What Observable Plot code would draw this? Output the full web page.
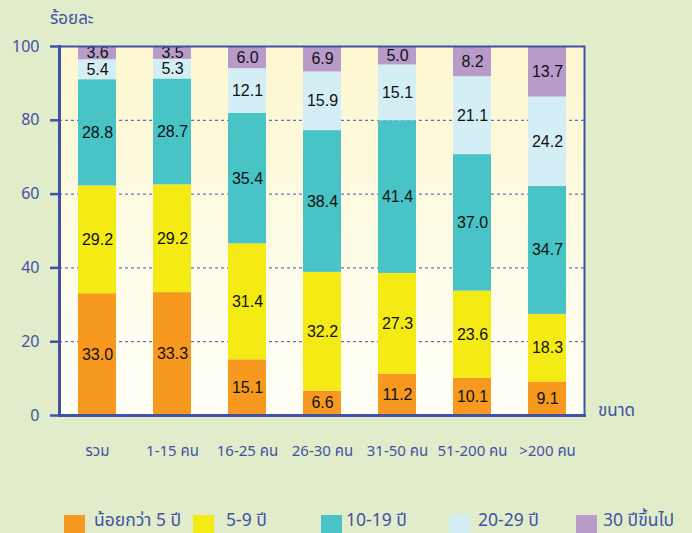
<!DOCTYPE html>
<html>
<head>
<meta charset="utf-8">
<script src="https://cdn.jsdelivr.net/npm/d3@7"></script>
<script src="https://cdn.jsdelivr.net/npm/@observablehq/plot@0.6"></script>
<style>
  html, body { margin: 0; padding: 0; background: #e1ecca; }
  #wrap { position: relative; width: 692px; height: 533px; overflow: hidden; background: #e1ecca;
    font-family: "Noto Sans Thai", "Tahoma", "DejaVu Sans", "Noto Sans", sans-serif; color: #4152a6; }
  .lab { position: absolute; font-size: 17px; color: #4152a6; white-space: nowrap; }
  .sw { position: absolute; width: 21px; height: 18px; }
  .lt { position: absolute; font-size: 17.5px; line-height: 1; color: #4152a6; white-space: nowrap; }
</style>
</head>
<body>
<div id="wrap"></div>
<script>
const categories = ["รวม", "1-15 คน", "16-25 คน", "26-30 คน", "31-50 คน", "51-200 คน", ">200 คน"];
const seriesNames = ["น้อยกว่า 5 ปี", "5-9 ปี", "10-19 ปี", "20-29 ปี", "30 ปีขึ้นไป"];
const lessThan5 = [33.0, 33.3, 15.1, 6.6, 11.2, 10.1, 9.1];
const years5to9 = [29.2, 29.2, 31.4, 32.2, 27.3, 23.6, 18.3];
const years10to19 = [28.8, 28.7, 35.4, 38.4, 41.4, 37.0, 34.7];
const years20to29 = [5.4, 5.3, 12.1, 15.9, 15.1, 21.1, 24.2];
const years30plus = [3.6, 3.5, 6.0, 6.9, 5.0, 8.2, 13.7];
const yTicks = [0, 20, 40, 60, 80, 100];
const colors = ["#f8991f", "#f5eb14", "#48c3c6", "#d4eef5", "#b99bc9"];

const seriesValues = [lessThan5, years5to9, years10to19, years20to29, years30plus];
const data = [];
seriesValues.forEach((vals, si) => {
  vals.forEach((v, ci) => data.push({category: categories[ci], series: seriesNames[si], value: v}));
});

const blue = "#4152a6";
const plot = Plot.plot({
  width: 692,
  height: 505,
  marginLeft: 59,
  marginRight: 108,
  marginTop: 46,
  marginBottom: 90,
  style: { background: "transparent", fontFamily: "'Noto Sans Thai', Tahoma, 'DejaVu Sans', sans-serif", overflow: "visible" },
  x: { domain: categories, paddingInner: 0.5, paddingOuter: 0.25, align: 0.5, label: null },
  y: { domain: [0, 100], ticks: yTicks, label: null },
  color: { domain: seriesNames, range: colors },
  marks: [
    Plot.frame({ fill: "url(#bgGrad)", stroke: null }),
    Plot.gridY(yTicks.filter(d => d > 0 && d < 100), { stroke: "#3a4fb8", strokeOpacity: 1, strokeWidth: 1, strokeDasharray: "3,3" }),
    Plot.barY(data, { x: "category", y: "value", fill: "series", order: seriesNames }),
    Plot.text(data, Plot.stackY({ x: "category", y: "value", z: "series", order: seriesNames, text: d => d.value.toFixed(1),
      fill: "#111", fontSize: 16, fontFamily: "'Liberation Sans', Arial, sans-serif" })),
    Plot.axisY(yTicks, { tickSize: 9, tickPadding: 11, stroke: blue, strokeWidth: 2.5, fill: blue, fontSize: 16, tickFormat: d => String(d) }),
    Plot.axisX({ tickSize: 0, tickPadding: 30, fill: blue, fontSize: 15 }),
    Plot.frame({ stroke: blue, strokeWidth: 2 }),
    Plot.frame({ anchor: "left", stroke: blue, strokeWidth: 3 }),
    Plot.frame({ anchor: "bottom", stroke: blue, strokeWidth: 3 })
  ]
});

const svgNS = "http://www.w3.org/2000/svg";
const defs = document.createElementNS(svgNS, "defs");
defs.innerHTML = `<linearGradient id="bgGrad" x1="0" y1="0" x2="0" y2="1">
  <stop offset="0" stop-color="#fcf7cf"/>
  <stop offset="0.5" stop-color="#fefbe4"/>
  <stop offset="1" stop-color="#fffff8"/>
</linearGradient>`;
plot.insertBefore(defs, plot.firstChild);
plot.style.position = "absolute";
plot.style.left = "0px";
plot.style.top = "0px";

const wrap = document.getElementById("wrap");
wrap.appendChild(plot);

function addLabel(text, left, top, cls) {
  const s = document.createElement("span");
  s.className = cls;
  s.textContent = text;
  s.style.left = left + "px";
  s.style.top = top + "px";
  wrap.appendChild(s);
}
addLabel("ร้อยละ", 50, 6, "lab");
addLabel("ขนาด", 598, 398, "lab");

const swX = [64, 193, 321, 449, 576];
const txX = [94, 226, 346, 478, 603];
seriesNames.forEach((name, i) => {
  const sw = document.createElement("div");
  sw.className = "sw";
  sw.style.left = swX[i] + "px";
  sw.style.top = "515px";
  sw.style.background = colors[i];
  wrap.appendChild(sw);
  addLabel(name, txX[i], 512, "lt");
});
</script>
</body>
</html>
